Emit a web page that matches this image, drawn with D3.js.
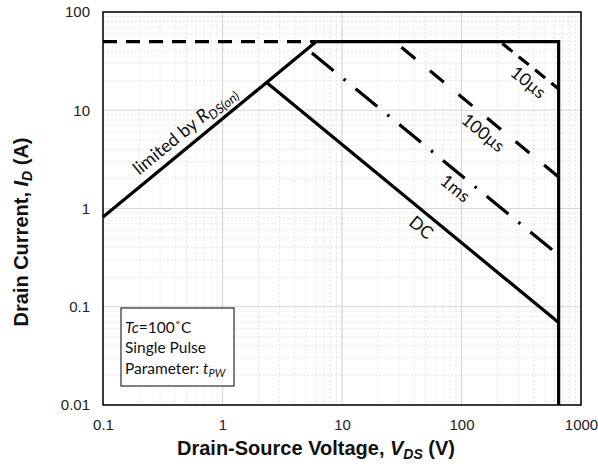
<!DOCTYPE html>
<html>
<head>
<meta charset="utf-8">
<script src="https://cdn.jsdelivr.net/npm/d3@7"></script>
<style>
    body { margin: 0; background: #fff; }
    svg text { fill: #111; }
</style>
</head>
<body>
<script>
// axis ticks
const xTicks = [0.1, 1, 10, 100, 1000];
const yTicks = [0.01, 0.1, 1, 10, 100];
const xTickLabels = ["0.1", "1", "10", "100", "1000"];
const yTickLabels = ["0.01", "0.1", "1", "10", "100"];

// SOA boundary segments as [V, I] end points
const rdsLimit = [[0.1, 0.82], [6.1, 50]];
const pulseLimit = [[0.1, 50], [6.1, 50]];
const currentLimit = [[6.1, 50], [650, 50]];
const voltageLimit = [[650, 50], [650, 0.01]];
const dcLine = [[2.34, 19.2], [650, 0.069]];
const ms1Line = [[5.6, 38.3], [650, 0.335]];
const us100Line = [[27.5, 50], [650, 2.09]];
const us10Line = [[210, 50], [650, 16.5]];

// curve labels: [text, V position along the curve]
const curveLabels = [["DC", 54.5, dcLine], ["1ms", 105, ms1Line], ["100µs", 180, us100Line], ["10µs", 430, us10Line]];

const width = 598, height = 467;
const plot = { left: 103, right: 581, top: 12, bottom: 405 };

let svg = d3.select("body").append("svg")
    .attr("width", width)
    .attr("height", height);

let x = d3.scaleLog().domain([0.1, 1000]).range([plot.left, plot.right]);
let y = d3.scaleLog().domain([0.01, 100]).range([plot.bottom, plot.top]);

// minor grid (2..9 of every decade)
let minorX = [], minorY = [];
for (let d = 0.1; d < 1000; d *= 10) {
    for (let k = 2; k <= 9; k++) minorX.push(d * k);
}
for (let d = 0.01; d < 100; d *= 10) {
    for (let k = 2; k <= 9; k++) minorY.push(d * k);
}

let grid = svg.append("g").attr("class", "grid");
grid.selectAll(".mx").data(minorX).enter().append("line")
    .attr("x1", d => x(d)).attr("x2", d => x(d))
    .attr("y1", plot.top).attr("y2", plot.bottom)
    .style("stroke", "#e6e6e6").style("stroke-width", 1).style("stroke-dasharray", "2,2");
grid.selectAll(".my").data(minorY).enter().append("line")
    .attr("y1", d => y(d)).attr("y2", d => y(d))
    .attr("x1", plot.left).attr("x2", plot.right)
    .style("stroke", "#e6e6e6").style("stroke-width", 1).style("stroke-dasharray", "2,2");
grid.selectAll(".Mx").data(xTicks).enter().append("line")
    .attr("x1", d => x(d)).attr("x2", d => x(d))
    .attr("y1", plot.top).attr("y2", plot.bottom)
    .style("stroke", "#d6d6d6").style("stroke-width", 1.2);
grid.selectAll(".My").data(yTicks).enter().append("line")
    .attr("y1", d => y(d)).attr("y2", d => y(d))
    .attr("x1", plot.left).attr("x2", plot.right)
    .style("stroke", "#d6d6d6").style("stroke-width", 1.2);

// axes
let xAxis = d3.axisBottom(x).tickValues(xTicks)
    .tickFormat((d, i) => xTickLabels[i]).tickSize(0).tickPadding(14);
let yAxis = d3.axisLeft(y).tickValues(yTicks)
    .tickFormat((d, i) => yTickLabels[i]).tickSize(0).tickPadding(13);

let gx = svg.append("g").attr("transform", "translate(0," + plot.bottom + ")").call(xAxis);
let gy = svg.append("g").attr("transform", "translate(" + plot.left + ",0)").call(yAxis);
[gx, gy].forEach(g => {
    g.select(".domain").remove();
    g.selectAll("text")
        .style("font-family", "'Liberation Sans', Arial, sans-serif")
        .style("font-size", "15px")
        .style("fill", "#222");
});

// plot border
svg.append("rect")
    .attr("x", plot.left).attr("y", plot.top)
    .attr("width", plot.right - plot.left).attr("height", plot.bottom - plot.top)
    .style("fill", "none").style("stroke", "#000").style("stroke-width", 1.5);

// curves
let line = d3.line().x(d => x(d[0])).y(d => y(d[1]));

function drawCurve(data, dash) {
    svg.append("path")
        .datum(data)
        .attr("d", line)
        .style("fill", "none")
        .style("stroke", "#000")
        .style("stroke-width", 3.2)
        .style("stroke-dasharray", dash);
}

drawCurve(pulseLimit, "14,9");
drawCurve(rdsLimit, null);
drawCurve(currentLimit.concat(voltageLimit.slice(1)), null);
drawCurve(dcLine, null);
drawCurve(ms1Line, "28,13,2.5,13");
drawCurve(us100Line, "0,9,18,10");
drawCurve(us10Line, "0,3,13,5");

// angle of a slope +/-1 line in screen space
let angle = Math.atan((y(1) - y(10)) / (x(10) - x(1))) * 180 / Math.PI;

const labelFont = "Lato, 'Open Sans', sans-serif";

// value of a straight log-log segment at V
function curveAt(seg, v) {
    let t = (Math.log(v) - Math.log(seg[0][0])) / (Math.log(seg[1][0]) - Math.log(seg[0][0]));
    return Math.exp(Math.log(seg[0][1]) + t * (Math.log(seg[1][1]) - Math.log(seg[0][1])));
}

curveLabels.forEach(l => {
    let px = x(l[1]), py = y(curveAt(l[2], l[1]));
    svg.append("text")
        .attr("transform", "translate(" + px + "," + py + ") rotate(" + angle + ")")
        .attr("text-anchor", "middle")
        .attr("dy", 20)
        .style("font-family", labelFont)
        .style("font-size", "17.5px")
        .text(l[0]);
});

// R_DS(on) label
let rv = 0.58;
let rt = svg.append("text")
    .attr("transform", "translate(" + x(rv) + "," + y(curveAt(rdsLimit, rv)) + ") rotate(" + (-angle) + ")")
    .attr("text-anchor", "middle")
    .attr("dy", -9)
    .style("font-family", labelFont)
    .style("font-size", "18px");
rt.append("tspan").text("limited by ");
rt.append("tspan").style("font-style", "italic").text("R");
rt.append("tspan").style("font-style", "italic").style("font-size", "13px")
    .attr("dy", 4).text("DS(on)");

// legend box
svg.append("rect")
    .attr("x", 121).attr("y", 308).attr("width", 113).attr("height", 78)
    .style("fill", "#fff").style("stroke", "#000").style("stroke-width", 1);

let legend = svg.append("g")
    .style("font-family", labelFont)
    .style("font-size", "15.5px");
let l1 = legend.append("text").attr("x", 125).attr("y", 333);
l1.append("tspan").style("font-style", "italic").text("Tc");
l1.append("tspan").text("=100˚C");
legend.append("text").attr("x", 125).attr("y", 353).text("Single Pulse");
let l3 = legend.append("text").attr("x", 125).attr("y", 374);
l3.append("tspan").text("Parameter: ");
l3.append("tspan").style("font-style", "italic").text("t");
l3.append("tspan").style("font-style", "italic").style("font-size", "11px").attr("dy", 3).text("PW");

// axis titles
const titleFont = "'Liberation Sans', Arial, sans-serif";
let xt = svg.append("text")
    .attr("x", 316).attr("y", 455)
    .attr("text-anchor", "middle")
    .style("font-family", titleFont)
    .style("font-weight", "bold")
    .style("font-size", "20px");
xt.append("tspan").text("Drain-Source Voltage, ");
xt.append("tspan").style("font-style", "italic").text("V");
xt.append("tspan").style("font-style", "italic").style("font-size", "14px").attr("dy", 4).text("DS");
xt.append("tspan").attr("dy", -4).text(" (V)");

let yt = svg.append("text")
    .attr("transform", "translate(28,232) rotate(-90)")
    .attr("text-anchor", "middle")
    .style("font-family", titleFont)
    .style("font-weight", "bold")
    .style("font-size", "20px");
yt.append("tspan").text("Drain Current, ");
yt.append("tspan").style("font-style", "italic").text("I");
yt.append("tspan").style("font-style", "italic").style("font-size", "14px").attr("dy", 4).text("D");
yt.append("tspan").attr("dy", -4).text(" (A)");
</script>
</body>
</html>
